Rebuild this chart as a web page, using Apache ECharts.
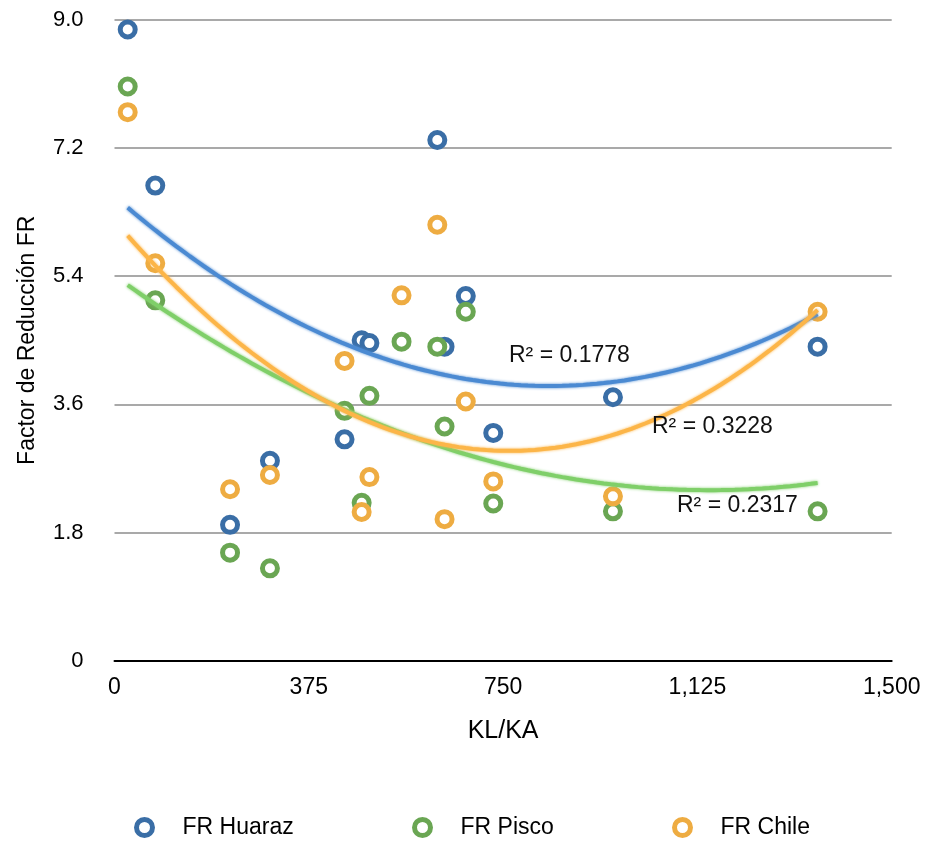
<!DOCTYPE html>
<html>
<head>
<meta charset="utf-8">
<script src="https://cdn.jsdelivr.net/npm/echarts@6/dist/echarts.min.js"></script>
<style>
html,body{margin:0;padding:0;background:#fff;}
#chart{width:925px;height:843px;}
</style>
</head>
<body>
<div id="chart"></div>
<script>
// ---- data ----
const seriesNames = ['FR Huaraz', 'FR Pisco', 'FR Chile'];
const huarazX = [25.5, 78.7, 223, 300, 444, 477, 492, 623, 637, 678, 731, 962, 1357];
const huarazY = [8.86, 6.67, 1.91, 2.81, 3.11, 4.50, 4.46, 7.31, 4.41, 5.12, 3.20, 3.70, 4.41];
const piscoX  = [25.5, 78.7, 223, 300, 444, 477, 492, 554, 623, 637, 678, 731, 962, 1357];
const piscoY  = [8.06, 5.06, 1.52, 1.30, 3.51, 2.22, 3.72, 4.48, 4.41, 3.29, 4.90, 2.21, 2.10, 2.10];
const chileX  = [25.5, 78.7, 223, 300, 444, 477, 492, 554, 623, 637, 678, 731, 962, 1357];
const chileY  = [7.70, 5.58, 2.41, 2.61, 4.21, 2.09, 2.58, 5.13, 6.12, 1.99, 3.64, 2.52, 2.31, 4.90];
const r2Labels = ['R² = 0.1778', 'R² = 0.2317', 'R² = 0.3228'];
const xTickLabels = ['0', '375', '750', '1,125', '1,500'];
const yTickLabels = ['0', '1.8', '3.6', '5.4', '7.2', '9.0'];

// ---- styles ----
const markerColors = ['#3a6ea6', '#6aa653', '#eeac42'];
const lineColors = ['#4b8ad2', '#7fcf69', '#fcb548'];
const FONT = '"Liberation Sans", Arial, Helvetica, sans-serif';

// quadratic least-squares trendline (Excel polynomial order 2)
function quadFit(xs, ys) {
  let n = xs.length, s1=0,s2=0,s3=0,s4=0,t0=0,t1=0,t2=0;
  for (let i=0;i<n;i++){const x=xs[i],y=ys[i];s1+=x;s2+=x*x;s3+=x*x*x;s4+=x*x*x*x;t0+=y;t1+=x*y;t2+=x*x*y;}
  const A=[[n,s1,s2,t0],[s1,s2,s3,t1],[s2,s3,s4,t2]];
  for (let c=0;c<3;c++){
    let p=c; for(let r=c+1;r<3;r++) if(Math.abs(A[r][c])>Math.abs(A[p][c])) p=r;
    [A[c],A[p]]=[A[p],A[c]];
    for(let r=0;r<3;r++){ if(r===c) continue; const f=A[r][c]/A[c][c]; for(let k=c;k<4;k++) A[r][k]-=f*A[c][k]; }
  }
  return [A[0][3]/A[0][0], A[1][3]/A[1][1], A[2][3]/A[2][2]];
}
function trendPoints(xs, ys) {
  const [a,b,c] = quadFit(xs, ys);
  const lo = Math.min(...xs), hi = Math.max(...xs), pts = [];
  const steps = 100;
  for (let i=0;i<=steps;i++){ const x = lo + (hi-lo)*i/steps; pts.push([x, a + b*x + c*x*x]); }
  return pts;
}
const zip = (xs, ys) => xs.map((x,i)=>[x, ys[i]]);
const allX = [huarazX, piscoX, chileX];
const allY = [huarazY, piscoY, chileY];

const chart = echarts.init(document.getElementById('chart'), null, {renderer:'canvas'});

const series = [];
for (let k=0;k<3;k++){
  series.push({
    name: seriesNames[k], type: 'scatter', data: zip(allX[k], allY[k]),
    symbol: 'circle', symbolSize: 15, z: 2,
    itemStyle: {color: '#ffffff', borderColor: markerColors[k], borderWidth: 5, opacity: 1},
    emphasis: {disabled: true}
  });
}
for (let k=0;k<3;k++){
  series.push({
    name: seriesNames[k] + ' trend', type: 'line', data: trendPoints(allX[k], allY[k]),
    showSymbol: false, symbol: 'none', smooth: false, z: 3, silent: true,
    lineStyle: {color: lineColors[k], width: 4, shadowColor: lineColors[k], shadowBlur: 3},
    emphasis: {disabled: true}
  });
}

const legendIconCenters = [142, 420, 680];
const legends = seriesNames.map((nm, k) => ({
  data: [nm], left: legendIconCenters[k] - 8, top: 816, padding: 0,
  icon: 'circle', itemWidth: 16, itemHeight: 16, selectedMode: false,
  itemStyle: {color: '#ffffff', borderColor: markerColors[k], borderWidth: 5},
  textStyle: {fontFamily: FONT, fontSize: 23, color: '#000', padding: [0, 0, 0, 25]}
}));

const r2Pos = [[509, 357], [677, 507], [652, 428]];
const graphics = r2Labels.map((t, k) => ({
  type: 'text', left: r2Pos[k][0], top: r2Pos[k][1] - 13, z: 10,
  style: {text: t, fontFamily: FONT, fontSize: 23, fill: '#111'}
}));

chart.setOption({
  animation: false,
  backgroundColor: '#fff',
  grid: {left: 114.5, right: 33.3, top: 19.5, bottom: 182, containLabel: false},
  xAxis: {
    type: 'value', min: 0, max: 1500, interval: 375,
    name: 'KL/KA', nameLocation: 'middle', nameGap: 58,
    nameTextStyle: {fontFamily: FONT, fontSize: 25, color: '#000'},
    axisLine: {show: true, onZero: false, lineStyle: {color: '#000', width: 2}},
    axisTick: {show: false},
    splitLine: {show: false},
    axisLabel: {fontFamily: FONT, fontSize: 23, color: '#000', margin: 15,
      formatter: (v) => xTickLabels[Math.round(v/375)]}
  },
  yAxis: {
    type: 'value', min: 0, max: 9, interval: 1.8,
    name: 'Factor de Reducción FR', nameLocation: 'middle', nameGap: 75,
    nameTextStyle: {fontFamily: FONT, fontSize: 23, color: '#000'},
    axisLine: {show: false}, axisTick: {show: false},
    splitLine: {show: true, lineStyle: {color: '#a9a9a9', width: 2}},
    axisLabel: {fontFamily: FONT, fontSize: 22, color: '#000', margin: 31,
      formatter: (v) => yTickLabels[Math.round(v/1.8)]}
  },
  legend: legends,
  series: series,
  graphic: graphics
});
</script>
</body>
</html>
